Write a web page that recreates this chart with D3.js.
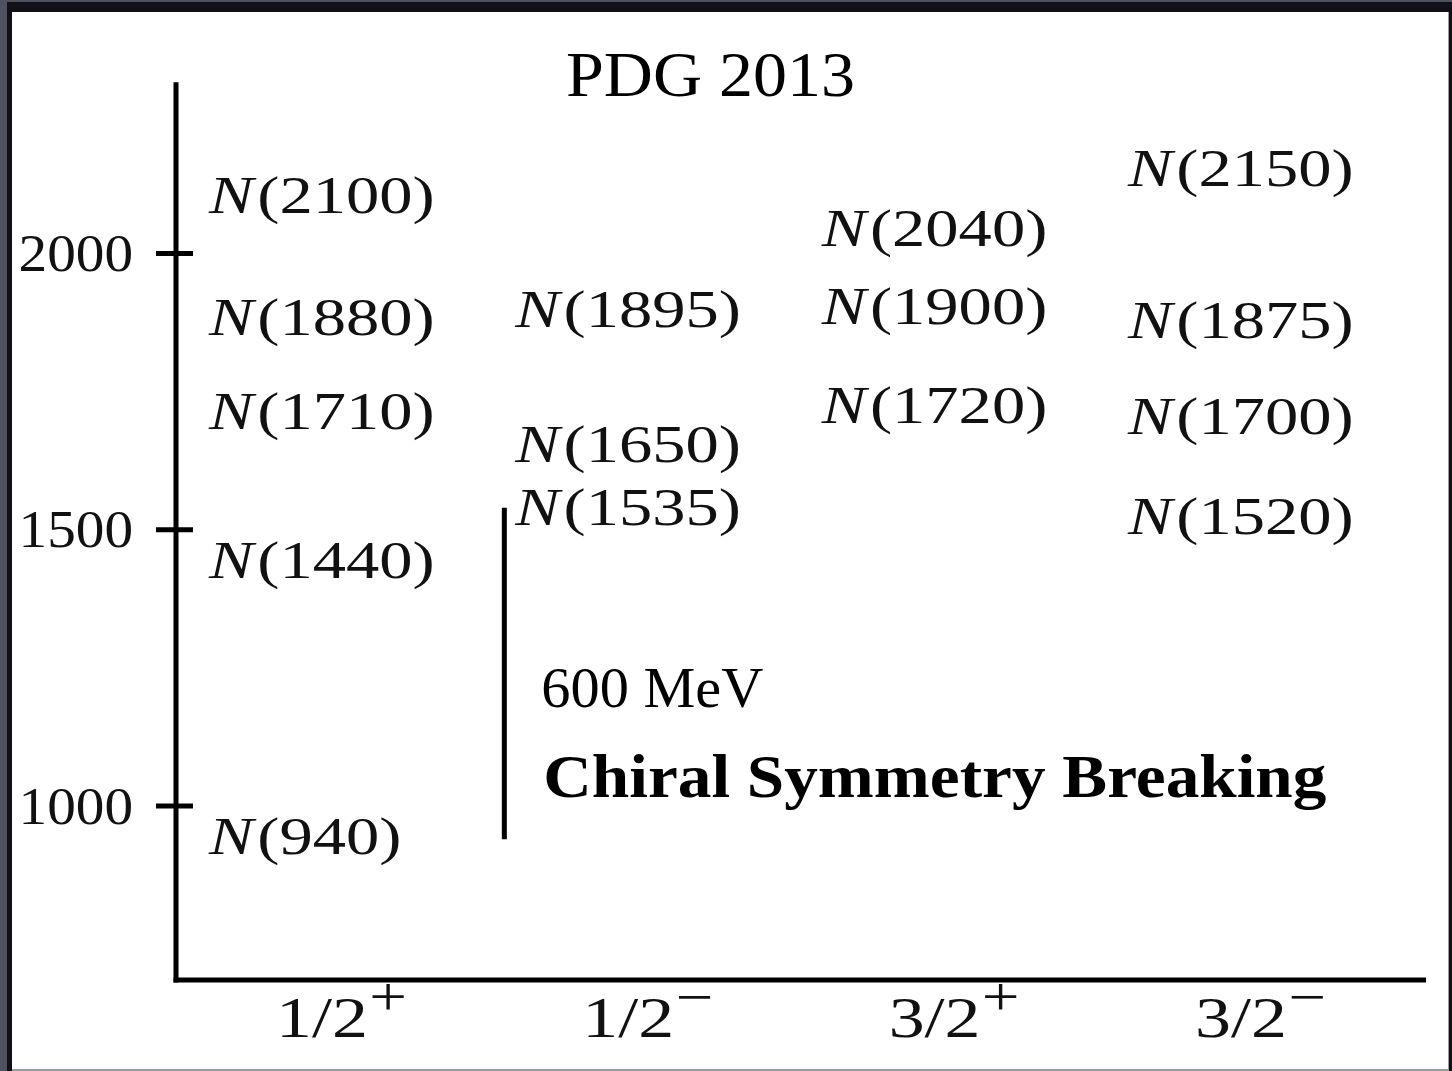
<!DOCTYPE html>
<html>
<head>
<meta charset="utf-8">
<script src="https://cdn.jsdelivr.net/npm/d3@7/dist/d3.min.js"></script>
<style>
  html, body { margin: 0; padding: 0; background: #ffffff; }
  svg { display: block; }
</style>
</head>
<body>
<script>
// Nucleon resonance spectrum grouped by spin-parity J^P (PDG 2013)
const categoryBase   = ["1/2", "1/2", "3/2", "3/2"];
const categoryParity = ["+", "\u2212", "+", "\u2212"];
const categories     = ["1/2+", "1/2-", "3/2+", "3/2-"];

// resonance masses (MeV) in each J^P column
const massesHalfPlus       = [940, 1440, 1710, 1880, 2100];
const massesHalfMinus      = [1535, 1650, 1895];
const massesThreeHalfPlus  = [1720, 1900, 2040];
const massesThreeHalfMinus = [1520, 1700, 1875, 2150];

const yTickValues = [1000, 1500, 2000];
const massDomain  = [685, 2310];

// chiral partner gap N(940) -> N(1535) region
const gapFrom = 940;
const gapSize = 600;

const W = 1452, H = 1071;
const svg = d3.select("body").append("svg").attr("width", W).attr("height", H);

// window frame
svg.append("rect").attr("x", 0).attr("y", 0).attr("width", W).attr("height", H).attr("fill", "#4f5060");
svg.append("rect").attr("x", 7).attr("y", 2).attr("width", W - 7).attr("height", H - 2).attr("fill", "#101016");
svg.append("rect").attr("x", 12).attr("y", 12).attr("width", 1437).attr("height", H - 12).attr("fill", "#9a9aa0");
svg.append("rect").attr("x", 12).attr("y", 12).attr("width", 1436).attr("height", H - 14).attr("fill", "#ffffff");

const axisX = 176, axisBottom = 980, axisRight = 1426;

const y = d3.scaleLinear().domain([2000, 1000]).range([253.5, 806]);
const x = d3.scalePoint().domain(categories).range([213, 1132]);

const serif = "'Liberation Serif', 'Times New Roman', serif";
const ink = "#111";

// axes
svg.append("line").attr("x1", axisX).attr("x2", axisX)
  .attr("y1", y(massDomain[1])).attr("y2", y(massDomain[0]) + 2.5)
  .attr("stroke", "#000").attr("stroke-width", 5);
svg.append("line").attr("x1", axisX - 2.5).attr("x2", axisRight)
  .attr("y1", axisBottom).attr("y2", axisBottom)
  .attr("stroke", "#000").attr("stroke-width", 5);

// y ticks and labels
const yt = svg.append("g").selectAll("g").data(yTickValues).join("g");
yt.append("line")
  .attr("x1", axisX - 20).attr("x2", axisX + 17)
  .attr("y1", d => y(d)).attr("y2", d => y(d))
  .attr("stroke", "#000").attr("stroke-width", 5);
yt.append("text")
  .attr("transform", d => `translate(133,${y(d) + 17.5}) scale(1.08,1)`)
  .attr("text-anchor", "end")
  .attr("font-family", serif).attr("font-size", 53).attr("fill", ink)
  .text(d => d);

// x tick labels J^P
const xt = svg.append("g").selectAll("text").data(categories).join("text")
  .attr("transform", (d, i) => `translate(${x(d) + 63},1037) scale(1.24,1)`)
  .attr("font-family", serif).attr("fill", ink);
xt.append("tspan").attr("font-size", 58).text((d, i) => categoryBase[i]);
xt.append("tspan").attr("font-size", 54).attr("dy", -22).attr("dx", 1)
  .text((d, i) => categoryParity[i]);

// resonance labels
const columns = [massesHalfPlus, massesHalfMinus, massesThreeHalfPlus, massesThreeHalfMinus];
const states = columns.flatMap((ms, i) => ms.map(m => ({cat: categories[i], mass: m})));

const lab = svg.append("g").selectAll("text").data(states).join("text")
  .attr("transform", d => `translate(${x(d.cat) - 4},${y(d.mass) + 15}) scale(1.28,1)`)
  .attr("font-family", serif).attr("font-size", 52).attr("fill", ink);
lab.append("tspan").attr("font-style", "italic").text("N");
lab.append("tspan").attr("dx", 3).text(d => `(${d.mass})`);

// chiral gap bar
const gapX = x(categories[1]) - 15;
svg.append("line").attr("x1", gapX).attr("x2", gapX)
  .attr("y1", y(gapFrom + gapSize)).attr("y2", y(gapFrom))
  .attr("stroke", "#000").attr("stroke-width", 5);

svg.append("text").attr("x", gapX + 37).attr("y", 707)
  .attr("font-family", serif).attr("font-size", 58).attr("fill", "#000")
  .attr("textLength", 222).attr("lengthAdjust", "spacingAndGlyphs")
  .text(`${gapSize} MeV`);

svg.append("text").attr("x", gapX + 39).attr("y", 797)
  .attr("font-family", serif).attr("font-size", 62).attr("font-weight", "bold").attr("fill", "#000")
  .attr("textLength", 783).attr("lengthAdjust", "spacingAndGlyphs")
  .text("Chiral Symmetry Breaking");

// title
svg.append("text").attr("x", 566).attr("y", 96)
  .attr("font-family", serif).attr("font-size", 63).attr("fill", "#000")
  .attr("textLength", 289).attr("lengthAdjust", "spacingAndGlyphs")
  .text("PDG 2013");
</script>
</body>
</html>
